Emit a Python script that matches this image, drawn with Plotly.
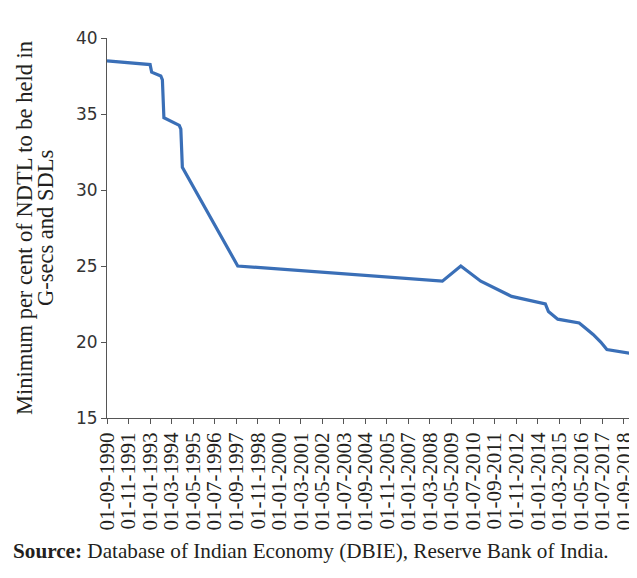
import plotly.graph_objects as go

# Data: effective SLR (minimum per cent of NDTL held in G-secs and SDLs)
dates = ["1990-09-01", "1993-01-01", "1993-02-01", "1993-08-01", "1993-09-01",
         "1993-10-01", "1994-08-01", "1994-09-01", "1994-10-01", "1997-10-01",
         "2008-11-01", "2009-11-01", "2010-12-01", "2012-08-01", "2014-06-01",
         "2014-08-01", "2015-02-01", "2016-04-01", "2016-07-01", "2016-10-01",
         "2017-01-01", "2017-06-01", "2017-10-01", "2019-01-01"]
values = [38.5, 38.25, 37.75, 37.5, 37.25,
          34.75, 34.25, 34.0, 31.5, 25.0,
          24.0, 25.0, 24.0, 23.0, 22.5,
          22.0, 21.5, 21.25, 21.0, 20.75,
          20.5, 20.0, 19.5, 19.25]

tick_dates = ["1990-09-01", "1991-11-01", "1993-01-01", "1994-03-01", "1995-05-01",
              "1996-07-01", "1997-09-01", "1998-11-01", "2000-01-01", "2001-03-01",
              "2002-05-01", "2003-07-01", "2004-09-01", "2005-11-01", "2007-01-01",
              "2008-03-01", "2009-05-01", "2010-07-01", "2011-09-01", "2012-11-01",
              "2014-01-01", "2015-03-01", "2016-05-01", "2017-07-01", "2018-09-01"]
tick_labels = ["01-09-1990", "01-11-1991", "01-01-1993", "01-03-1994", "01-05-1995",
               "01-07-1996", "01-09-1997", "01-11-1998", "01-01-2000", "01-03-2001",
               "01-05-2002", "01-07-2003", "01-09-2004", "01-11-2005", "01-01-2007",
               "01-03-2008", "01-05-2009", "01-07-2010", "01-09-2011", "01-11-2012",
               "01-01-2014", "01-03-2015", "01-05-2016", "01-07-2017", "01-09-2018"]

y_title_lines = ["Minimum per cent of NDTL to be held in", "G-secs and SDLs"]
source_text = "<b>Source:</b> Database of Indian Economy (DBIE), Reserve Bank of India."

# the page places the figure 8px from the top-left corner of the window
OFF = 8
W, H = 637 - OFF, 578 - OFF
# plot area in window pixels: x 107..630, y 38..418
L = 107 - OFF
T = 38 - OFF
R = W - (630 - OFF)
B = H - (418 - OFF)
pw = W - L - R
ph = H - T - B

def px_to_paper_x(px):
    return (px - OFF - L) / pw

def px_to_paper_y(py):
    return (H - B - (py - OFF)) / ph

fig = go.Figure(go.Scatter(
    x=dates, y=values, mode="lines",
    line=dict(color="#3a6fb7", width=3.2),
    hoverinfo="skip",
))

axis_col = "#555555"
fig.update_layout(
    width=W, height=H,
    margin=dict(l=L, r=R, t=T, b=B, pad=0, autoexpand=False),
    paper_bgcolor="white", plot_bgcolor="white",
    showlegend=False,
    xaxis=dict(
        type="date", range=["1990-09-01", "2019-01-01"],
        tickmode="array", tickvals=tick_dates, ticktext=tick_labels,
        tickangle=-90, ticks="outside", ticklen=5, tickcolor=axis_col, tickwidth=1,
        showline=True, linecolor=axis_col, linewidth=1,
        showgrid=False, zeroline=False, automargin=False,
        tickfont=dict(family="Liberation Serif", size=21, color="#231f20"),
    ),
    yaxis=dict(
        range=[15, 40], tick0=15, dtick=5,
        ticks="outside", ticklen=5, tickcolor=axis_col, tickwidth=1,
        showline=True, linecolor=axis_col, linewidth=1,
        showgrid=False, zeroline=False, automargin=False,
        tickfont=dict(family="DejaVu Sans", size=17, color="#333333"),
    ),
)

title_font = dict(family="Liberation Serif", size=22.5, color="#231f20")
for cx, txt in zip([24, 45], y_title_lines):
    fig.add_annotation(
        text=txt, textangle=-90, showarrow=False,
        xref="paper", yref="paper",
        x=px_to_paper_x(cx), y=0.5, xanchor="center", yanchor="middle",
        font=title_font,
    )

fig.add_annotation(
    text=source_text, showarrow=False,
    xref="paper", yref="paper",
    x=px_to_paper_x(11), y=px_to_paper_y(551), xanchor="left", yanchor="middle",
    font=dict(family="Liberation Serif", size=21.2, color="#231f20"),
)

fig.write_html("out.html")
